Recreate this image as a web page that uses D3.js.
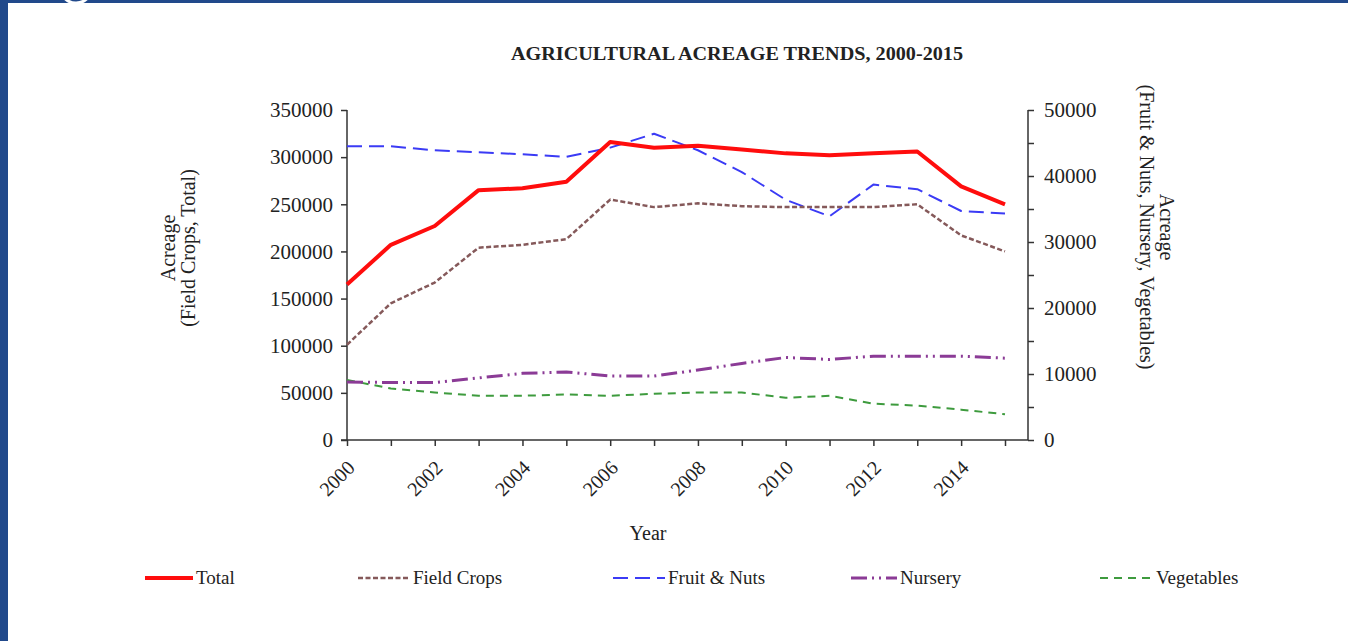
<!DOCTYPE html>
<html>
<head>
<meta charset="utf-8">
<script src="https://cdn.jsdelivr.net/npm/d3@7"></script>
<style>
    body { margin: 0; background: #fff; }
    svg text { font-family: "Liberation Serif", "Times New Roman", serif; fill: #222; }
</style>
</head>
<body>
<svg id="chart" width="1348" height="641"></svg>
<script>
// chart data //
// ---------- //
var years = [2000, 2001, 2002, 2003, 2004, 2005, 2006, 2007, 2008, 2009, 2010, 2011, 2012, 2013, 2014, 2015];
var total = [165000, 207000, 227000, 265000, 267000, 274000, 316000, 310000, 312000, 308000, 304000, 302000, 304000, 306000, 269000, 250000];
var fieldCrops = [101000, 145000, 167000, 204000, 207000, 213000, 255000, 247000, 251000, 248000, 247000, 247000, 247000, 250000, 217000, 200000];
var fruitNuts = [44500, 44500, 43900, 43600, 43300, 42900, 44300, 46400, 43900, 40600, 36400, 33900, 38700, 38000, 34700, 34300];
var nursery = [8800, 8700, 8700, 9400, 10100, 10300, 9700, 9700, 10600, 11600, 12500, 12200, 12700, 12700, 12700, 12400];
var vegetables = [9100, 7800, 7200, 6700, 6700, 6900, 6700, 7000, 7200, 7200, 6400, 6700, 5500, 5200, 4600, 3900];
var leftTicks = [0, 50000, 100000, 150000, 200000, 250000, 300000, 350000];
var rightTicks = [0, 10000, 20000, 30000, 40000, 50000];
var yearLabels = [2000, 2002, 2004, 2006, 2008, 2010, 2012, 2014];

var svg = d3.select("#chart");

// slide frame
svg.append("rect").attr("x", 0).attr("y", 0).attr("width", 1348).attr("height", 3).attr("fill", "#21498b");
svg.append("rect").attr("x", 0).attr("y", 0).attr("width", 8).attr("height", 641).attr("fill", "#21498b");
svg.append("circle").attr("cx", 76).attr("cy", -13).attr("r", 16)
    .attr("fill", "none").attr("stroke", "#fff").attr("stroke-width", 3);

var x = d3.scaleLinear().domain([2000, 2015]).range([347, 1005]),
    yL = d3.scaleLinear().domain([0, 350000]).range([440, 110]),
    yR = d3.scaleLinear().domain([0, 50000]).range([440, 110]);

svg.append("text").attr("x", 737).attr("y", 60).attr("text-anchor", "middle")
    .attr("font-size", 18).attr("font-weight", "bold")
    .attr("textLength", 452).attr("lengthAdjust", "spacingAndGlyphs")
    .text("AGRICULTURAL  ACREAGE TRENDS, 2000-2015");

// axes
var axisColor = "#333";
var gl = svg.append("g").attr("transform", "translate(347,0)")
    .call(d3.axisLeft(yL).tickValues(leftTicks).tickSize(6).tickPadding(8).tickFormat(d3.format("d")));
var gr = svg.append("g").attr("transform", "translate(1028,0)")
    .call(d3.axisRight(yR).tickValues(d3.range(0, 50001, 5000)).tickSize(6).tickPadding(10)
        .tickFormat(function (d) { return rightTicks.indexOf(d) >= 0 ? d : ""; }));
var gx = svg.append("g").attr("transform", "translate(0,440)")
    .call(d3.axisBottom(x).tickValues(years).tickSize(6).tickFormat(""));

[gl, gr, gx].forEach(function (g) {
    g.select(".domain").remove();
    g.selectAll("line").attr("stroke", axisColor).attr("stroke-width", 1.5);
    g.selectAll("text").attr("font-size", 21).attr("font-family", "Liberation Serif").attr("fill", "#222");
});
svg.append("line").attr("x1", 347).attr("x2", 347).attr("y1", 110).attr("y2", 440)
    .attr("stroke", axisColor).attr("stroke-width", 1.5);
svg.append("line").attr("x1", 1028).attr("x2", 1028).attr("y1", 110).attr("y2", 440)
    .attr("stroke", axisColor).attr("stroke-width", 1.5);
svg.append("line").attr("x1", 341).attr("x2", 1028).attr("y1", 440).attr("y2", 440)
    .attr("stroke", axisColor).attr("stroke-width", 1.5);

// rotated year labels
svg.append("g").selectAll("text").data(yearLabels).enter().append("text")
    .attr("font-size", 20).attr("text-anchor", "end")
    .attr("transform", function (d) { return "translate(" + (x(d) + 9) + ",469) rotate(-45)"; })
    .text(function (d) { return d; });

svg.append("text").attr("x", 648).attr("y", 540).attr("text-anchor", "middle")
    .attr("font-size", 20).text("Year");

// axis titles
var lt = svg.append("text").attr("transform", "translate(175,248) rotate(-90)")
    .attr("text-anchor", "middle").attr("font-size", 20);
lt.append("tspan").attr("x", 0).attr("dy", 0).text("Acreage");
lt.append("tspan").attr("x", 0).attr("dy", 20).text("(Field Crops, Total)");

var rt = svg.append("text").attr("transform", "translate(1160,227) rotate(90)")
    .attr("text-anchor", "middle").attr("font-size", 20);
rt.append("tspan").attr("x", 0).attr("dy", 0).text("Acreage");
rt.append("tspan").attr("x", 0).attr("dy", 20).text("(Fruit & Nuts, Nursery, Vegetables)");

// series //
// ------ //
var series = [
    {name: "Total", values: total, scale: yL, color: "#ff0d0d", width: 4, dash: null, lx: 145, lw: 48},
    {name: "Field Crops", values: fieldCrops, scale: yL, color: "#85595a", width: 2.5, dash: "5,2.5", lx: 358, lw: 52},
    {name: "Fruit & Nuts", values: fruitNuts, scale: yR, color: "#3b3bf5", width: 2, dash: "15,7", lx: 613, lw: 52},
    {name: "Nursery", values: nursery, scale: yR, color: "#8b3b96", width: 3, dash: "16,5,2,5,2,5", lx: 851, lw: 46},
    {name: "Vegetables", values: vegetables, scale: yR, color: "#3e9b3e", width: 2, dash: "8,6", lx: 1100, lw: 53}
];

// draw back to front so Total sits on top
series.slice().reverse().forEach(function (s) {
    var line = d3.line()
        .x(function (d, i) { return x(years[i]); })
        .y(function (d) { return s.scale(d); });
    svg.append("path").datum(s.values)
        .attr("d", line)
        .attr("fill", "none")
        .attr("stroke", s.color)
        .attr("stroke-width", s.width)
        .attr("stroke-dasharray", s.dash)
        .attr("stroke-linejoin", "round");
});

// legend
var lg = svg.append("g").selectAll("g").data(series).enter().append("g");
lg.append("line")
    .attr("x1", function (d) { return d.lx; })
    .attr("x2", function (d) { return d.lx + d.lw; })
    .attr("y1", 578).attr("y2", 578)
    .attr("stroke", function (d) { return d.color; })
    .attr("stroke-width", function (d) { return d.width; })
    .attr("stroke-dasharray", function (d) { return d.dash; });
lg.append("text")
    .attr("x", function (d) { return d.lx + d.lw + 3; })
    .attr("y", 584)
    .attr("font-size", 19)
    .text(function (d) { return d.name; });
</script>
</body>
</html>
